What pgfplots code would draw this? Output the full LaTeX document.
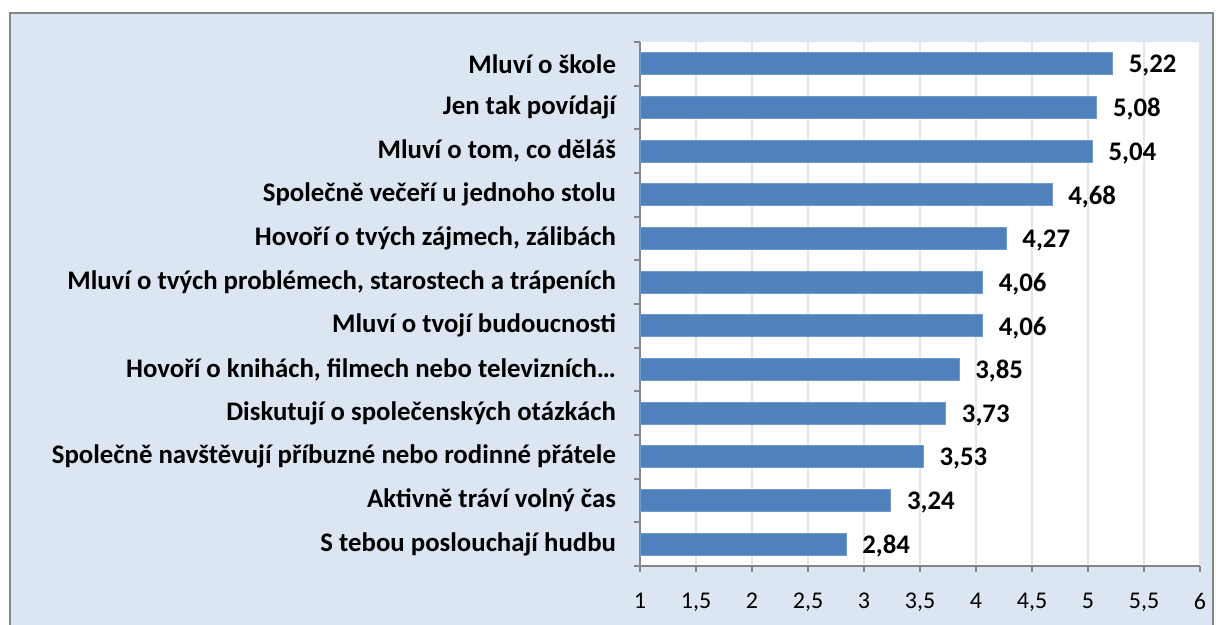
\documentclass[border=0pt]{standalone}
\usepackage{fontspec}
\setmainfont{Carlito}
\usepackage{pgfplots}
\pgfplotsset{compat=1.18}
\definecolor{barblue}{HTML}{4F81BD}
\definecolor{bgblue}{HTML}{DCE6F2}
\definecolor{axgray}{HTML}{868686}
\definecolor{gridgray}{HTML}{E6E6E6}
\begin{document}
\begin{tikzpicture}
\useasboundingbox (0,0) rectangle (609pt,312.5pt);
\fill[bgblue] (5pt,-10pt) rectangle (606.5pt,306pt);
\draw[axgray, line width=1pt] (5pt,-10pt) rectangle (606.5pt,306pt);
\begin{axis}[
  at={(320pt,29.5pt)}, anchor=south west,
  scale only axis, width=280pt, height=262pt,
  xbar, bar width=11pt,
  xmin=1, xmax=6, ymin=-0.5, ymax=11.5,
  xtick={1,1.5,...,6},
  ytick={-0.5,0.5,1.5,2.5,3.5,4.5,5.5,6.5,7.5,8.5,9.5,10.5,11.5},
  yticklabels={},
  extra y ticks={0,...,11},
  extra y tick labels={
    {S tebou poslouchají hudbu},
    {Aktivně tráví volný čas},
    {Společně navštěvují příbuzné nebo rodinné přátele},
    {Diskutují o společenských otázkách},
    {Hovoří o knihách, filmech nebo televizních…},
    {Mluví o tvojí budoucnosti},
    {Mluví o tvých problémech, starostech a trápeních},
    {Hovoří o tvých zájmech, zálibách},
    {Společně večeří u jednoho stolu},
    {Mluví o tom, co děláš},
    {Jen tak povídají},
    {Mluví o škole}},
  extra y tick style={major tick length=0pt,
    yticklabel style={font=\bfseries\fontsize{13.4}{15}\selectfont, xshift=-8.5pt}},
  axis lines*=left,
  axis line style={axgray, line width=1pt},
  tick align=outside,
  major tick length=3pt,
  tick style={draw=axgray, line width=1pt},
  xmajorgrids,
  grid style={gridgray, line width=0.8pt},
  axis background/.style={fill=white},
  /pgf/number format/assume math mode=true,
  /pgf/number format/use comma,
  xticklabel style={font=\fontsize{12}{14}\selectfont, yshift=-7pt},
  nodes near coords={\pgfmathprintnumber[fixed, fixed zerofill, precision=2, use comma]{\pgfplotspointmeta}},
  nodes near coords style={font=\bfseries\fontsize{13.4}{15}\selectfont, anchor=west, xshift=4.5pt, yshift=-1pt, black},
  point meta=explicit,
]
\addplot[fill=barblue, draw=barblue!80!white, line width=0.5pt] table[x=v, y=i, meta=v] {
i v
0 2.84
1 3.24
2 3.53
3 3.73
4 3.85
5 4.06
6 4.06
7 4.27
8 4.68
9 5.04
10 5.08
11 5.22
};
\end{axis}
\end{tikzpicture}
\end{document}
